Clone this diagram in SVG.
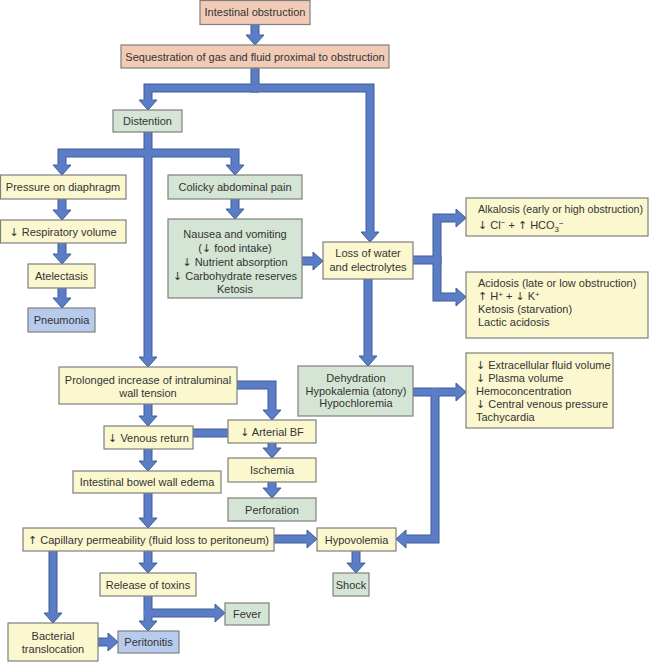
<svg xmlns="http://www.w3.org/2000/svg" width="650" height="662" viewBox="0 0 650 662">
<style>
.bx{stroke:#7f7f7f;stroke-width:1.2}
.sal{fill:#f2cbb7}.yel{fill:#fbf8d0}.grn{fill:#d4e5d5}.blu{fill:#b7cbed}
text{font-family:"Liberation Sans",Arial,sans-serif;font-size:11px;fill:#333}
.a{font-family:"DejaVu Sans",sans-serif;font-size:11px}
.c{text-anchor:middle}
.ol{fill:none;stroke:#3e5c9e;stroke-width:9}
.fl{fill:none;stroke:#5a7dc6;stroke-width:7;marker-end:url(#ah)}
.nm{marker-end:none}
</style>
<defs>
<marker id="ah" markerUnits="userSpaceOnUse" markerWidth="12" markerHeight="20" viewBox="-1 -10 12 20" refX="0" refY="0" orient="auto" overflow="visible">
<path d="M0,-9 L10,0 L0,9 Z" fill="#5a7dc6"/>
<path d="M0,-4.5 V-9 L10,0 L0,9 V4.5" fill="none" stroke="#3e5c9e" stroke-width="1"/>
</marker>
<g id="conn">
<path d="M255,24 V35"/>
<path d="M255,68 V88 H370 V232"/>
<path d="M259,88 H148 V100"/>
<path d="M148,132 V357"/>
<path d="M152,153 H62 V165"/>
<path d="M144,153 H235 V165"/>
<path d="M62,199 V210"/>
<path d="M62,243 V254"/>
<path d="M62,288 V298"/>
<path d="M235,199 V209"/>
<path d="M302,261 H313"/>
<path d="M413,260 H437 V218 H456"/>
<path d="M437,256 V297 H456"/>
<path d="M368,279 V356"/>
<path d="M413,392 H456"/>
<path d="M435,388 V539 H406"/>
<path d="M237,385 H272 V410"/>
<path d="M148,404 V416"/>
<path d="M272,443 V448"/>
<path d="M272,482 V488"/>
<path d="M148,449 V461"/>
<path d="M148,493 V518"/>
<path d="M274,539 H307"/>
<path d="M356,551 V563"/>
<path d="M148,551 V563"/>
<path d="M53,551 V613"/>
<path d="M148,596 V621"/>
<path d="M144,613 H215"/>
<path d="M98,642 H108"/>
</g>
</defs>
<g id="connectors">
<use href="#conn" class="ol"/>
<path d="M193,433 H228" class="ol"/>
<use href="#conn" class="fl"/>
<path d="M192,433 H229" class="fl nm"/>
</g>
<g id="n1"><rect class="bx sal" x="200" y="0.5" width="110" height="24"/><text class="c" x="255" y="16">Intestinal obstruction</text></g>
<g id="n2"><rect class="bx sal" x="121" y="45" width="268" height="23"/><text class="c" x="255" y="60.5">Sequestration of gas and fluid proximal to obstruction</text></g>
<g id="n3"><rect class="bx grn" x="113" y="110" width="69" height="22"/><text class="c" x="147.5" y="125">Distention</text></g>
<g id="n4"><rect class="bx yel" x="0.5" y="175" width="125.5" height="24"/><text class="c" x="63" y="191">Pressure on diaphragm</text></g>
<g id="n5"><rect class="bx yel" x="0.5" y="220" width="125.5" height="23"/><text class="c" x="63" y="235.5"><tspan class="a">↓</tspan> Respiratory volume</text></g>
<g id="n6"><rect class="bx yel" x="28" y="264" width="67" height="24"/><text class="c" x="61.5" y="280">Atelectasis</text></g>
<g id="n7"><rect class="bx blu" x="28" y="308" width="67" height="24"/><text class="c" x="61.5" y="324">Pneumonia</text></g>
<g id="n8"><rect class="bx grn" x="168" y="175" width="134" height="24"/><text class="c" x="235" y="191">Colicky abdominal pain</text></g>
<g id="n9"><rect class="bx grn" x="168" y="219" width="134" height="79"/><text class="c" x="235" y="238">Nausea and vomiting</text><text class="c" x="235" y="252">(<tspan class="a">↓</tspan> food intake)</text><text class="c" x="235" y="266"><tspan class="a">↓</tspan> Nutrient absorption</text><text class="c" x="235" y="280"><tspan class="a">↓</tspan> Carbohydrate reserves</text><text class="c" x="235" y="293">Ketosis</text></g>
<g id="n10"><rect class="bx yel" x="323" y="242" width="90" height="37"/><text class="c" x="368" y="257">Loss of water</text><text class="c" x="368" y="271">and electrolytes</text></g>
<g id="n11"><rect class="bx yel" x="466" y="198" width="182" height="38"/><text x="478" y="213" textLength="165" lengthAdjust="spacingAndGlyphs">Alkalosis (early or high obstruction)</text><text x="478" y="229"><tspan class="a">↓</tspan> Cl<tspan font-size="8" dy="-4">−</tspan><tspan dy="4"> + </tspan><tspan class="a">↑</tspan> HCO<tspan font-size="8" dy="3">3</tspan><tspan font-size="8" dy="-6">−</tspan></text></g>
<g id="n12"><rect class="bx yel" x="466" y="272" width="182" height="66"/><text x="478" y="287">Acidosis (late or low obstruction)</text><text x="478" y="299.5"><tspan class="a">↑</tspan> H<tspan font-size="8" dy="-3">+</tspan><tspan dy="3"> + </tspan><tspan class="a">↓</tspan> K<tspan font-size="8" dy="-3">+</tspan></text><text x="478" y="312.5">Ketosis (starvation)</text><text x="478" y="325.5">Lactic acidosis</text></g>
<g id="n13"><rect class="bx grn" x="298" y="366" width="115" height="50"/><text class="c" x="356" y="382">Dehydration</text><text class="c" x="356" y="395">Hypokalemia (atony)</text><text class="c" x="356" y="407">Hypochloremia</text></g>
<g id="n14"><rect class="bx yel" x="466" y="353" width="147" height="75"/><text x="476" y="369"><tspan class="a">↓</tspan> Extracellular fluid volume</text><text x="476" y="382"><tspan class="a">↓</tspan> Plasma volume</text><text x="476" y="395">Hemoconcentration</text><text x="476" y="408"><tspan class="a">↓</tspan> Central venous pressure</text><text x="476" y="421">Tachycardia</text></g>
<g id="n15"><rect class="bx yel" x="59" y="367" width="178" height="37"/><text class="c" x="148" y="384">Prolonged increase of intraluminal</text><text class="c" x="148" y="397">wall tension</text></g>
<g id="n16"><rect class="bx yel" x="104" y="426" width="89" height="23"/><text class="c" x="148.5" y="441.5"><tspan class="a">↓</tspan> Venous return</text></g>
<g id="n17"><rect class="bx yel" x="228" y="420" width="88" height="23"/><text class="c" x="272" y="435.5"><tspan class="a">↓</tspan> Arterial BF</text></g>
<g id="n18"><rect class="bx yel" x="228" y="458" width="88" height="24"/><text class="c" x="272" y="474">Ischemia</text></g>
<g id="n19"><rect class="bx grn" x="228" y="498" width="88" height="23"/><text class="c" x="272" y="513.5">Perforation</text></g>
<g id="n20"><rect class="bx yel" x="73" y="471" width="148" height="22"/><text class="c" x="147" y="486">Intestinal bowel wall edema</text></g>
<g id="n21"><rect class="bx yel" x="23" y="528" width="251" height="23"/><text class="c" x="148.5" y="543.5"><tspan class="a">↑</tspan> Capillary permeability (fluid loss to peritoneum)</text></g>
<g id="n22"><rect class="bx yel" x="317" y="528" width="79" height="23"/><text class="c" x="356.5" y="543.5">Hypovolemia</text></g>
<g id="n23"><rect class="bx grn" x="333" y="573" width="36" height="23"/><text class="c" x="351" y="588.5">Shock</text></g>
<g id="n24"><rect class="bx yel" x="100" y="573" width="96" height="23"/><text class="c" x="148" y="588.5">Release of toxins</text></g>
<g id="n25"><rect class="bx grn" x="225" y="603" width="44" height="22"/><text class="c" x="247" y="618">Fever</text></g>
<g id="n26"><rect class="bx blu" x="118" y="631" width="61" height="22"/><text class="c" x="148.5" y="646">Peritonitis</text></g>
<g id="n27"><rect class="bx yel" x="8" y="623" width="90" height="38"/><text class="c" x="53" y="640">Bacterial</text><text class="c" x="53" y="653">translocation</text></g>
</svg>
